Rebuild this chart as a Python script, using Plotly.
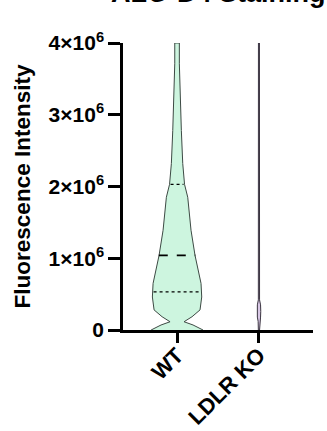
import plotly.graph_objects as go

# ---- data ----
categories = ["WT", "LDLR KO"]
y_ticks = [0, 1e6, 2e6, 3e6, 4e6]
y_tick_labels = ["<b>0</b>", "<b>1×10<sup>6</sup></b>", "<b>2×10<sup>6</sup></b>",
                 "<b>3×10<sup>6</sup></b>", "<b>4×10<sup>6</sup></b>"]

# WT violin density profile: intensity levels and relative half-widths
wt_levels = [0, 0.07e6, 0.115e6, 0.185e6, 0.28e6, 0.46e6, 0.65e6, 0.83e6, 1.04e6,
             1.39e6, 1.85e6, 2.03e6, 2.32e6, 2.78e6, 3.24e6, 3.71e6, 4.0e6]
wt_density = [26, 16, 7, 15, 23, 24.7, 24, 21, 18, 14, 10.7, 7.5, 5.7, 4.3, 3.0, 2.3, 2.3]
wt_median = 1.04e6
wt_q1 = 0.53e6
wt_q3 = 2.03e6
wt_q1_density = 23.5
wt_median_density = 18.3
wt_q3_density = 6.5

# LDLR KO violin profile
ko_levels = [0, 0.12e6, 0.18e6, 0.26e6, 0.35e6, 0.42e6, 1.0e6, 2.0e6, 3.0e6, 4.0e6]
ko_density = [0.6, 0.8, 1.6, 1.8, 1.6, 0.6, 0.5, 0.5, 0.5, 0.5]

PX_PER_UNIT = 82.0  # pixels per category unit (scale for density widths)

fig = go.Figure()

def violin(pos, levels, dens, fill, line):
    w = [d / PX_PER_UNIT for d in dens]
    xs = [pos + v for v in w] + [pos - v for v in reversed(w)]
    ys = list(levels) + list(reversed(levels))
    fig.add_trace(go.Scatter(x=xs, y=ys, fill="toself", fillcolor=fill,
                             line=dict(color=line, width=1), mode="lines",
                             hoverinfo="skip", showlegend=False))

violin(0, wt_levels, wt_density, "#cdf5df", "#3d4a44")
violin(1, ko_levels, ko_density, "#d9c8e6", "#3a3440")

def hline(pos, y, dens, dash, width):
    w = dens / PX_PER_UNIT
    fig.add_trace(go.Scatter(x=[pos - w, pos + w], y=[y, y], mode="lines",
                             line=dict(color="black", width=width, dash=dash),
                             hoverinfo="skip", showlegend=False))

hline(0, wt_median, wt_median_density, "dash", 1.6)
hline(0, wt_q1, wt_q1_density, "dot", 1.2)
hline(0, wt_q3, wt_q3_density, "dot", 1.2)

font_family = "Liberation Sans, Arial, sans-serif"

fig.update_layout(
    width=327, height=431,
    margin=dict(l=123, r=14, t=43, b=101),
    plot_bgcolor="white", paper_bgcolor="white",
    font=dict(family=font_family, color="black"),
    xaxis=dict(range=[-0.66, 1.66], tickvals=[0, 1],
               ticktext=["<b>%s</b>" % c for c in categories],
               tickangle=-45, ticks="outside", ticklen=10, tickwidth=2.5,
               tickcolor="black", showline=True, linecolor="black", linewidth=2.5,
               showgrid=False, zeroline=False, tickfont=dict(size=22),
               ticklabelstandoff=-9, automargin=False),
    yaxis=dict(range=[0, 4e6], tickvals=y_ticks, ticktext=y_tick_labels,
               ticks="outside", ticklen=12, tickwidth=2.5, tickcolor="black",
               showline=True, linecolor="black", linewidth=2.5,
               showgrid=False, zeroline=False, tickfont=dict(size=21),
               automargin=False,
               title=dict(text="<b>Fluorescence Intensity</b>", font=dict(size=22.5),
                          standoff=12)),
    annotations=[
        dict(text="<b>ALO-D4 Staining</b>", xref="paper", yref="paper",
             x=0.5, y=1, xshift=0, yshift=33, xanchor="center", yanchor="bottom",
             showarrow=False, font=dict(size=27, family=font_family)),
        dict(text="<b>E</b>", xref="paper", yref="paper",
             x=0, y=1, xshift=-111, yshift=36, xanchor="left", yanchor="bottom",
             showarrow=False, font=dict(size=26, family=font_family)),
    ],
)

fig.write_html("out.html")
